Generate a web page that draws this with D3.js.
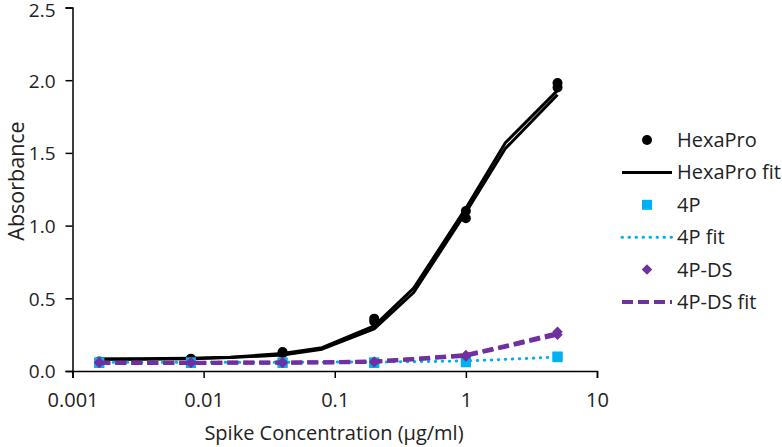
<!DOCTYPE html>
<html><head><meta charset="utf-8">
<script src="https://cdn.jsdelivr.net/npm/d3@7"></script>
<style>body{margin:0;background:#fff}svg{display:block}text{font-family:"Open Sans",sans-serif;fill:#222}</style>
</head><body><svg id="c" width="782" height="447"></svg>
<script>
const concentrations = [0.0016, 0.008, 0.04, 0.2, 1, 5];
const fitConcentrations = [0.0016, 0.0032, 0.008, 0.016, 0.04, 0.08, 0.2, 0.4, 1, 2, 5];
const hexaProRep1 = [0.065, 0.085, 0.13, 0.36, 1.10, 1.98];
const hexaProRep2 = [0.062, 0.065, 0.12, 0.34, 1.05, 1.95];
const hexaProFit1 = [0.083, 0.084, 0.088, 0.095, 0.12, 0.16, 0.31, 0.57, 1.12, 1.57, 1.93];
const hexaProFit2 = [0.080, 0.081, 0.085, 0.092, 0.11, 0.15, 0.29, 0.54, 1.09, 1.53, 1.90];
const p4Rep1 = [0.055, 0.06, 0.055, 0.055, 0.06, 0.095];
const p4Rep2 = [0.06, 0.055, 0.06, 0.06, 0.065, 0.10];
const p4Fit = [0.06, 0.06, 0.06, 0.06, 0.06, 0.061, 0.062, 0.064, 0.069, 0.08, 0.096];
const p4dsRep1 = [0.055, 0.055, 0.055, 0.06, 0.10, 0.27];
const p4dsRep2 = [0.06, 0.06, 0.06, 0.065, 0.11, 0.25];
const p4dsFit1 = [0.055, 0.055, 0.055, 0.056, 0.057, 0.058, 0.063, 0.08, 0.105, 0.167, 0.25];
const p4dsFit2 = [0.057, 0.057, 0.057, 0.058, 0.059, 0.06, 0.066, 0.083, 0.11, 0.172, 0.26];
const xTicks = [0.001, 0.01, 0.1, 1, 10];
const xTickLabels = ["0.001", "0.01", "0.1", "1", "10"];
const yTicks = [0, 0.5, 1.0, 1.5, 2.0, 2.5];
const legendLabels = ["HexaPro", "HexaPro fit", "4P", "4P fit", "4P-DS", "4P-DS fit"];

const BLACK = "#000", BLUE = "#00B0F0", PURPLE = "#7030A0";
const svg = d3.select("#c");
const x = d3.scaleLog().domain([0.001, 10]).range([72.5, 597]);
const y = d3.scaleLinear().domain([0, 2.5]).range([371, 7.5]);

// axes
const xa = svg.append("g").attr("transform", "translate(0,371)")
  .call(d3.axisBottom(x).tickValues(xTicks).tickFormat((d, i) => xTickLabels[i]).tickSize(7).tickPadding(10));
const ya = svg.append("g").attr("transform", "translate(72.5,0)")
  .call(d3.axisLeft(y).tickValues(yTicks).tickFormat(d3.format(".1f")).tickSize(7).tickPadding(10));
[xa, ya].forEach(g => {
  g.selectAll("path.domain").attr("stroke", "#000").attr("stroke-width", 1.5);
  g.selectAll(".tick line").attr("stroke", "#000").attr("stroke-width", 1.5);
  g.selectAll(".tick text").style("font-family", '"Open Sans",sans-serif').style("font-size", "20px").attr("fill", "#222");
});
xa.selectAll(".tick text").attr("dy", "0.95em");
ya.selectAll(".tick text").style("font-size", "19px").attr("dy", "0.36em")
  .attr("y", d => d === 2.5 ? 2 : 0);
svg.append("text").attr("x", 334).attr("y", 440).attr("text-anchor", "middle")
  .style("font-size", "20px").text("Spike Concentration (µg/ml)");
svg.append("text").attr("transform", "translate(24,181) rotate(-90)").attr("text-anchor", "middle")
  .style("font-size", "21.5px").text("Absorbance");

const line = d3.line().x(d => x(d[0])).y(d => y(d[1]));
const zip = (xs, ys) => xs.map((v, i) => [v, ys[i]]);
const g = svg.append("g");

function circles(vals) {
  g.append("g").selectAll("circle").data(zip(concentrations, vals)).join("circle")
    .attr("cx", d => x(d[0])).attr("cy", d => y(d[1])).attr("r", 5).attr("fill", BLACK);
}
function squares(vals) {
  g.append("g").selectAll("rect").data(zip(concentrations, vals)).join("rect")
    .attr("x", d => x(d[0]) - 5).attr("y", d => y(d[1]) - 5).attr("width", 10).attr("height", 10).attr("fill", BLUE);
}
const diamond = d3.symbol().type(d3.symbolDiamond2).size(70);
function diamonds(vals) {
  g.append("g").selectAll("path").data(zip(concentrations, vals)).join("path")
    .attr("transform", d => `translate(${x(d[0])},${y(d[1])})`).attr("d", diamond).attr("fill", PURPLE);
}
function fit(vals, color, width, dash, cap) {
  g.append("path").datum(zip(fitConcentrations, vals)).attr("d", line)
    .attr("fill", "none").attr("stroke", color).attr("stroke-width", width)
    .attr("stroke-dasharray", dash).attr("stroke-linecap", cap).attr("stroke-linejoin", "round");
}
circles(hexaProRep1); circles(hexaProRep2);
fit(hexaProFit1, BLACK, 3, null, "butt"); fit(hexaProFit2, BLACK, 3, null, "butt");
squares(p4Rep1); squares(p4Rep2);
fit(p4Fit, BLUE, 3, "0.5,6.5", "round");
diamonds(p4dsRep1); diamonds(p4dsRep2);
fit(p4dsFit1, PURPLE, 4, "11,5", "butt"); fit(p4dsFit2, PURPLE, 4, "11,5", "butt");

// legend
const lg = svg.append("g");
const rowY = i => 140 + i * 32.4;
legendLabels.forEach((lab, i) => {
  const cy = rowY(i);
  if (i === 0) lg.append("circle").attr("cx", 647).attr("cy", cy).attr("r", 5).attr("fill", BLACK);
  if (i === 2) lg.append("rect").attr("x", 642).attr("y", cy - 5).attr("width", 10).attr("height", 10).attr("fill", BLUE);
  if (i === 4) lg.append("path").attr("transform", `translate(647,${cy})`).attr("d", diamond).attr("fill", PURPLE);
  if (i === 1) lg.append("line").attr("x1", 622).attr("x2", 672).attr("y1", cy).attr("y2", cy).attr("stroke", BLACK).attr("stroke-width", 3);
  if (i === 3) lg.append("line").attr("x1", 622).attr("x2", 672).attr("y1", cy).attr("y2", cy).attr("stroke", BLUE).attr("stroke-width", 3).attr("stroke-dasharray", "0.5,6.5").attr("stroke-linecap", "round");
  if (i === 5) lg.append("line").attr("x1", 622).attr("x2", 672).attr("y1", cy).attr("y2", cy).attr("stroke", PURPLE).attr("stroke-width", 4).attr("stroke-dasharray", "11,5");
  lg.append("text").attr("x", 677).attr("y", cy).attr("dy", "0.35em").style("font-size", "20px").text(lab);
});
</script></body></html>
